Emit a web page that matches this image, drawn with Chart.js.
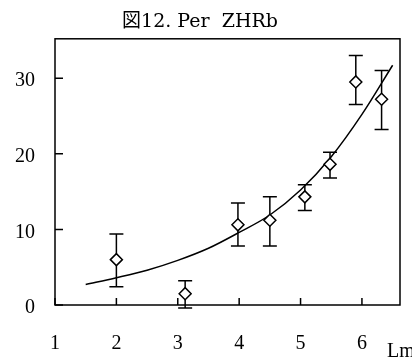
<!DOCTYPE html>
<html>
<head>
<meta charset="utf-8">
<script src="https://cdn.jsdelivr.net/npm/chart.js@4.4.0/dist/chart.umd.min.js"></script>
<style>
  html, body { margin: 0; padding: 0; background: #fff; }
</style>
</head>
<body>
<canvas id="zhr_chart" width="412" height="359"></canvas>
<script>
// axis ticks
var xTicks = [1, 2, 3, 4, 5, 6];
var yTicks = [0, 10, 20, 30];

var lm      = [2,   3.12, 3.98, 4.5,  5.07, 5.48, 5.9,  6.32];
var zhr     = [6.0, 1.5,  10.6, 11.2, 14.3, 18.6, 29.5, 27.2];
var zhrHigh = [9.4, 3.2,  13.5, 14.3, 15.9, 20.2, 33.0, 31.0];
var zhrLow  = [2.4, -0.4, 7.8,  7.8,  12.5, 16.8, 26.5, 23.2];

// fitted curve
var fitLm  = [1.5, 2,   2.5, 3,   3.5, 4,   4.5,  5,    5.5,  6,    6.5];
var fitZhr = [2.7, 3.6, 4.6, 5.9, 7.5, 9.6, 11.9, 15.2, 19.6, 25.2, 31.7];

var serif = "'Liberation Serif', 'DejaVu Serif', 'Noto Sans CJK JP', serif";
var titleSerif = "'DejaVu Serif', 'Liberation Serif', 'Noto Sans CJK JP', serif";

var frame = {
  id: 'frame',
  beforeDatasetsDraw: function (chart) {
    var ctx = chart.ctx, x = chart.scales.x, y = chart.scales.y, a = chart.chartArea;
    ctx.save();
    ctx.strokeStyle = '#000';
    ctx.lineWidth = 1.5;
    ctx.strokeRect(a.left, a.top, a.right - a.left, a.bottom - a.top);

    // tick marks point inwards
    ctx.beginPath();
    xTicks.forEach(function (v) {
      var px = x.getPixelForValue(v);
      ctx.moveTo(px, a.bottom);
      ctx.lineTo(px, a.bottom - 7);
    });
    yTicks.forEach(function (v) {
      var py = y.getPixelForValue(v);
      ctx.moveTo(a.left, py);
      ctx.lineTo(a.left + 8, py);
    });
    ctx.stroke();

    // error bars
    ctx.beginPath();
    lm.forEach(function (v, i) {
      var px = x.getPixelForValue(v);
      var top = y.getPixelForValue(zhrHigh[i]);
      var bot = y.getPixelForValue(zhrLow[i]);
      ctx.moveTo(px, top); ctx.lineTo(px, bot);
      ctx.moveTo(px - 7, top); ctx.lineTo(px + 7, top);
      ctx.moveTo(px - 7, bot); ctx.lineTo(px + 7, bot);
    });
    ctx.stroke();
    ctx.restore();
  },
  afterDraw: function (chart) {
    var ctx = chart.ctx, a = chart.chartArea;
    ctx.save();
    ctx.fillStyle = '#000';
    ctx.font = '20px ' + serif;
    ctx.textAlign = 'left';
    ctx.textBaseline = 'alphabetic';
    ctx.fillText('Lm', a.right - 13, a.bottom + 52);
    ctx.restore();
  }
};

var points = lm.map(function (v, i) { return { x: v, y: zhr[i] }; });
var fit = fitLm.map(function (v, i) { return { x: v, y: fitZhr[i] }; });

var ctx = document.getElementById('zhr_chart').getContext('2d');
var chartInstance = new Chart(ctx, {
  type: 'scatter',
  data: {
    datasets: [
      {
        data: points,
        pointStyle: 'rectRot',
        pointRadius: 6,
        backgroundColor: '#fff',
        borderColor: '#000',
        borderWidth: 1.5
      },
      {
        type: 'line',
        data: fit,
        showLine: true,
        borderColor: '#000',
        borderWidth: 1.5,
        pointRadius: 0,
        fill: false,
        cubicInterpolationMode: 'monotone'
      }
    ]
  },
  options: {
    responsive: false,
    animation: false,
    events: [],
    layout: { padding: { top: 0, right: 12, bottom: 0, left: 0 } },
    plugins: {
      legend: { display: false },
      tooltip: { enabled: false },
      title: {
        display: true,
        text: '図12. Per  ZHRb',
        color: '#000',
        font: { family: titleSerif, size: 19, weight: 'normal' },
        padding: { top: 11, bottom: 5 }
      }
    },
    scales: {
      x: {
        type: 'linear',
        min: 1,
        max: 6.62,
        afterBuildTicks: function (s) { s.ticks = xTicks.map(function (v) { return { value: v }; }); },
        afterFit: function (s) { s.height = 54; },
        grid: { display: false, drawTicks: false },
        border: { display: false },
        ticks: { color: '#000', font: { family: serif, size: 20 }, padding: 27, maxRotation: 0, autoSkip: false }
      },
      y: {
        min: 0,
        max: 35.2,
        afterBuildTicks: function (s) { s.ticks = yTicks.map(function (v) { return { value: v }; }); },
        afterFit: function (s) { s.width = 55; },
        grid: { display: false, drawTicks: false },
        border: { display: false },
        ticks: { color: '#000', font: { family: serif, size: 20 }, padding: 20, labelOffset: 3 }
      }
    }
  },
  plugins: [frame]
});
</script>
</body>
</html>
